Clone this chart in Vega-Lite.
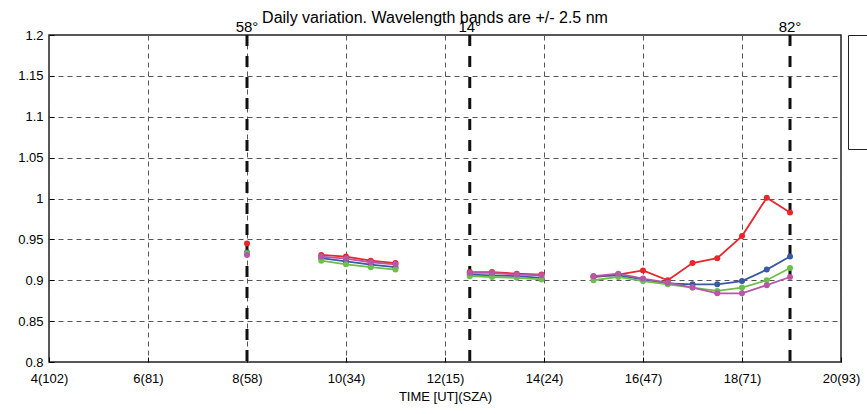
{
  "$schema": "https://vega.github.io/schema/vega-lite/v6.json",
  "autosize": {"type": "none"},
  "width": 792,
  "height": 327,
  "padding": {"left": 49, "top": 35, "right": 26, "bottom": 52},
  "background": "white",
  "config": {
    "font": "Liberation Sans",
    "view": {"stroke": "#222222", "strokeWidth": 1.5},
    "axis": {
      "domain": false,
      "grid": true,
      "gridColor": "#555555",
      "gridDash": [5, 4],
      "gridWidth": 1,
      "gridOpacity": 1,
      "ticks": true,
      "tickColor": "black",
      "tickSize": -5,
      "labelFlush": false,
      "labelColor": "black",
      "labelFont": "Liberation Sans",
      "labelFontSize": 13,
      "titleFont": "Liberation Sans",
      "titleFontSize": 13,
      "titleFontWeight": "normal",
      "titleColor": "black"
    },
    "title": {"font": "Liberation Sans", "fontSize": 16, "fontWeight": "normal", "color": "black"}
  },
  "title": {"text": "Daily variation. Wavelength bands are +/- 2.5 nm", "anchor": "middle", "dx": -10, "offset": -6},
  "datasets": {
    "pts": [
      {"t": 8.0, "v": 0.945, "s": "Band 1", "g": "a"},
      {"t": 9.5, "v": 0.931, "s": "Band 1", "g": "b"},
      {"t": 10.0, "v": 0.929, "s": "Band 1", "g": "b"},
      {"t": 10.5, "v": 0.924, "s": "Band 1", "g": "b"},
      {"t": 11.0, "v": 0.921, "s": "Band 1", "g": "b"},
      {"t": 12.5, "v": 0.910, "s": "Band 1", "g": "c"},
      {"t": 12.95, "v": 0.910, "s": "Band 1", "g": "c"},
      {"t": 13.45, "v": 0.908, "s": "Band 1", "g": "c"},
      {"t": 13.95, "v": 0.907, "s": "Band 1", "g": "c"},
      {"t": 15.0, "v": 0.904, "s": "Band 1", "g": "d"},
      {"t": 15.5, "v": 0.907, "s": "Band 1", "g": "d"},
      {"t": 16.0, "v": 0.912, "s": "Band 1", "g": "d"},
      {"t": 16.5, "v": 0.900, "s": "Band 1", "g": "d"},
      {"t": 17.0, "v": 0.921, "s": "Band 1", "g": "d"},
      {"t": 17.5, "v": 0.927, "s": "Band 1", "g": "d"},
      {"t": 18.0, "v": 0.954, "s": "Band 1", "g": "d"},
      {"t": 18.5, "v": 1.001, "s": "Band 1", "g": "d"},
      {"t": 18.97, "v": 0.983, "s": "Band 1", "g": "d"},

      {"t": 8.0, "v": 0.934, "s": "Band 2", "g": "a"},
      {"t": 9.5, "v": 0.927, "s": "Band 2", "g": "b"},
      {"t": 10.0, "v": 0.923, "s": "Band 2", "g": "b"},
      {"t": 10.5, "v": 0.919, "s": "Band 2", "g": "b"},
      {"t": 11.0, "v": 0.916, "s": "Band 2", "g": "b"},
      {"t": 12.5, "v": 0.907, "s": "Band 2", "g": "c"},
      {"t": 12.95, "v": 0.906, "s": "Band 2", "g": "c"},
      {"t": 13.45, "v": 0.905, "s": "Band 2", "g": "c"},
      {"t": 13.95, "v": 0.903, "s": "Band 2", "g": "c"},
      {"t": 15.0, "v": 0.905, "s": "Band 2", "g": "d"},
      {"t": 15.5, "v": 0.906, "s": "Band 2", "g": "d"},
      {"t": 16.0, "v": 0.901, "s": "Band 2", "g": "d"},
      {"t": 16.5, "v": 0.896, "s": "Band 2", "g": "d"},
      {"t": 17.0, "v": 0.895, "s": "Band 2", "g": "d"},
      {"t": 17.5, "v": 0.895, "s": "Band 2", "g": "d"},
      {"t": 18.0, "v": 0.899, "s": "Band 2", "g": "d"},
      {"t": 18.5, "v": 0.913, "s": "Band 2", "g": "d"},
      {"t": 18.97, "v": 0.929, "s": "Band 2", "g": "d"},

      {"t": 8.0, "v": 0.933, "s": "Band 3", "g": "a"},
      {"t": 9.5, "v": 0.924, "s": "Band 3", "g": "b"},
      {"t": 10.0, "v": 0.9195, "s": "Band 3", "g": "b"},
      {"t": 10.5, "v": 0.916, "s": "Band 3", "g": "b"},
      {"t": 11.0, "v": 0.913, "s": "Band 3", "g": "b"},
      {"t": 12.5, "v": 0.905, "s": "Band 3", "g": "c"},
      {"t": 12.95, "v": 0.904, "s": "Band 3", "g": "c"},
      {"t": 13.45, "v": 0.903, "s": "Band 3", "g": "c"},
      {"t": 13.95, "v": 0.901, "s": "Band 3", "g": "c"},
      {"t": 15.0, "v": 0.900, "s": "Band 3", "g": "d"},
      {"t": 15.5, "v": 0.904, "s": "Band 3", "g": "d"},
      {"t": 16.0, "v": 0.899, "s": "Band 3", "g": "d"},
      {"t": 16.5, "v": 0.895, "s": "Band 3", "g": "d"},
      {"t": 17.0, "v": 0.891, "s": "Band 3", "g": "d"},
      {"t": 17.5, "v": 0.887, "s": "Band 3", "g": "d"},
      {"t": 18.0, "v": 0.891, "s": "Band 3", "g": "d"},
      {"t": 18.5, "v": 0.900, "s": "Band 3", "g": "d"},
      {"t": 18.97, "v": 0.915, "s": "Band 3", "g": "d"},

      {"t": 8.0, "v": 0.931, "s": "Band 4", "g": "a"},
      {"t": 9.5, "v": 0.929, "s": "Band 4", "g": "b"},
      {"t": 10.0, "v": 0.9265, "s": "Band 4", "g": "b"},
      {"t": 10.5, "v": 0.922, "s": "Band 4", "g": "b"},
      {"t": 11.0, "v": 0.9195, "s": "Band 4", "g": "b"},
      {"t": 12.5, "v": 0.909, "s": "Band 4", "g": "c"},
      {"t": 12.95, "v": 0.909, "s": "Band 4", "g": "c"},
      {"t": 13.45, "v": 0.907, "s": "Band 4", "g": "c"},
      {"t": 13.95, "v": 0.906, "s": "Band 4", "g": "c"},
      {"t": 15.0, "v": 0.905, "s": "Band 4", "g": "d"},
      {"t": 15.5, "v": 0.908, "s": "Band 4", "g": "d"},
      {"t": 16.0, "v": 0.902, "s": "Band 4", "g": "d"},
      {"t": 16.5, "v": 0.897, "s": "Band 4", "g": "d"},
      {"t": 17.0, "v": 0.891, "s": "Band 4", "g": "d"},
      {"t": 17.5, "v": 0.884, "s": "Band 4", "g": "d"},
      {"t": 18.0, "v": 0.884, "s": "Band 4", "g": "d"},
      {"t": 18.5, "v": 0.894, "s": "Band 4", "g": "d"},
      {"t": 18.97, "v": 0.904, "s": "Band 4", "g": "d"}
    ],
    "vlines": [
      {"t": 8.0, "top": 1.2, "lab": "58°"},
      {"t": 12.5, "top": 1.2, "lab": "14°"},
      {"t": 18.97, "top": 1.2, "lab": "82°"}
    ]
  },
  "layer": [
    {
      "data": {"name": "vlines"},
      "mark": {"type": "rule", "color": "#111111", "strokeWidth": 3, "strokeDash": [11, 10]},
      "encoding": {
        "x": {
          "field": "t", "type": "quantitative",
          "scale": {"domain": [4, 20], "nice": false, "zero": false},
          "axis": {
            "values": [4, 6, 8, 10, 12, 14, 16, 18, 20],
            "title": "TIME [UT](SZA)",
            "titlePadding": 5,
            "labelPadding": 15,
            "labelExpr": "datum.value == 4 ? '4(102)' : datum.value == 6 ? '6(81)' : datum.value == 8 ? '8(58)' : datum.value == 10 ? '10(34)' : datum.value == 12 ? '12(15)' : datum.value == 14 ? '14(24)' : datum.value == 16 ? '16(47)' : datum.value == 18 ? '18(71)' : '20(93)'"
          }
        }
      }
    },
    {
      "data": {"name": "vlines"},
      "mark": {"type": "text", "baseline": "alphabetic", "align": "center", "dy": -3, "fontSize": 15, "font": "Liberation Sans", "color": "black"},
      "encoding": {
        "x": {"field": "t", "type": "quantitative"},
        "y": {"field": "top", "type": "quantitative"},
        "text": {"field": "lab", "type": "nominal"}
      }
    },
    {
      "data": {"name": "pts"},
      "mark": {"type": "line", "strokeWidth": 1.8, "point": {"filled": true, "size": 36}},
      "encoding": {
        "x": {"field": "t", "type": "quantitative"},
        "y": {
          "field": "v", "type": "quantitative",
          "scale": {"domain": [0.8, 1.2], "nice": false, "zero": false},
          "axis": {
            "values": [0.8, 0.85, 0.9, 0.95, 1.0, 1.05, 1.1, 1.15, 1.2],
            "format": "~g",
            "title": null,
            "labelPadding": 11
          }
        },
        "color": {
          "field": "s", "type": "nominal",
          "scale": {"domain": ["Band 1", "Band 2", "Band 3", "Band 4"], "range": ["#e8262b", "#3a58a6", "#6cbf4a", "#b857a8"]},
          "legend": {
            "title": null, "orient": "right", "offset": 7, "padding": 20,
            "strokeColor": "#222222", "cornerRadius": 0, "fillColor": "white",
            "labelExpr": "''", "labelFontSize": 13, "symbolType": "stroke", "symbolStrokeWidth": 2, "rowPadding": 3.5, "symbolSize": 200
          }
        },
        "detail": {"field": "g", "type": "nominal"}
      }
    }
  ]
}
